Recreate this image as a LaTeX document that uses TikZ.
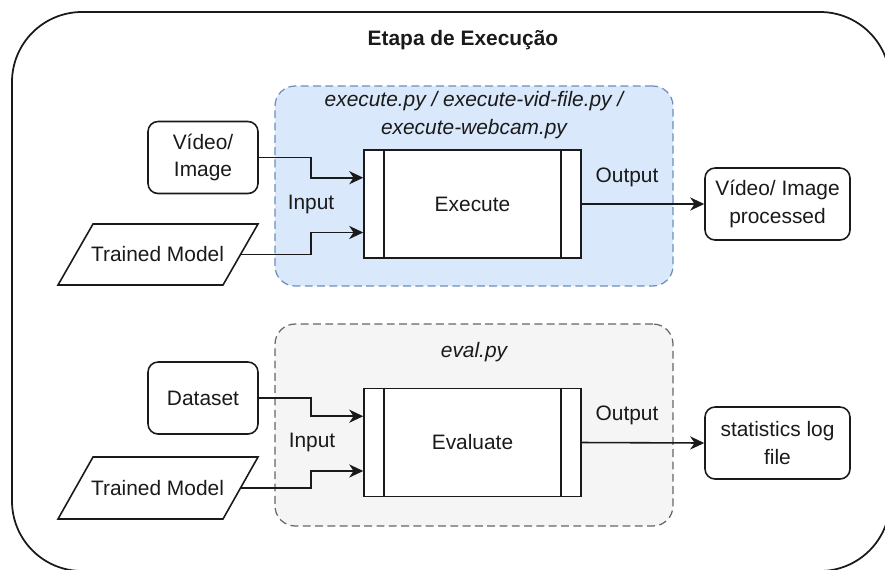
\documentclass[tikz,border=0pt]{standalone}
\usepackage{fontspec}
\setmainfont{Liberation Sans}
\usetikzlibrary{arrows.meta,calc}
\definecolor{blueFill}{HTML}{DAE8FC}
\definecolor{blueLine}{HTML}{6C8EBF}
\definecolor{grayFill}{HTML}{F5F5F5}
\definecolor{grayLine}{HTML}{666666}
\definecolor{ink}{HTML}{1A1A1A}

\begin{document}
\begin{tikzpicture}[x=0.02cm,y=-0.02cm,
  font=\fontsize{11.9pt}{15.5pt}\selectfont,
  line width=0.9pt,
  box/.style={draw=ink, fill=white, rounded corners=0.2cm, minimum width=2.2cm,
    minimum height=1.44cm, align=center, inner sep=0, text=ink},
  outbox/.style={box, minimum width=2.9cm},
  proc/.style={draw=ink, fill=white, minimum width=4.34cm, minimum height=2.16cm,
    inner sep=0, text=ink},
  grp/.style={rounded corners=0.4cm, line width=0.7pt, dash pattern=on 4.5pt off 2.5pt,
    minimum width=7.96cm, inner sep=0},
  para/.style={draw=ink, fill=white, line join=miter},
  arr/.style={draw=ink, -{Stealth[length=8pt,width=7.5pt,inset=2.5pt]}},
  lbl/.style={inner sep=0, text=ink, align=center}]

\useasboundingbox (0,0) rectangle (885,569);
\clip (0,0) rectangle (885,569);

% outer stage frame
\draw[draw=ink, line width=1pt, rounded corners=1.4cm] (12,12) rectangle (890,571);
\node[lbl, font=\fontsize{11.9pt}{15.5pt}\selectfont\bfseries] (title) at (463,40) {Etapa de Execução};

% groups
\node[grp, draw=blueLine, fill=blueFill, minimum height=4cm] (gexec) at (474,186) {};
\node[grp, draw=grayLine, fill=grayFill, minimum height=4.04cm] (geval) at (474,425) {};
\node[lbl, font=\fontsize{11.9pt}{15.9pt}\selectfont\itshape] (gexecl) at (474,115)
  {execute.py / execute-vid-file.py /\\execute-webcam.py};
\node[lbl, font=\fontsize{11.9pt}{15.5pt}\selectfont\itshape] (gevall) at (474,352) {eval.py};

% upper flow
\node[box] (vid) at (203,157.5) {Vídeo/\\Image};
\draw[para] (58,285) -- (93,224) -- (258,224) -- (223,285) -- cycle;
\node[lbl] (tm1) at (157.5,254.5) {Trained Model};
\coordinate (tm1e) at (240.5,254.5);
\node[proc] (ex) at (472.5,204) {Execute};
\draw[ink] ([xshift=0.42cm]ex.north west) -- ([xshift=0.42cm]ex.south west);
\draw[ink] ([xshift=-0.42cm]ex.north east) -- ([xshift=-0.42cm]ex.south east);
\coordinate (exa) at ($(ex.north west)!0.26!(ex.south west)$);
\coordinate (exb) at ($(ex.north west)!0.76!(ex.south west)$);
\node[outbox] (vout) at (777.5,204) {Vídeo/ Image\\processed};
\node[lbl] (in1) at (311,204) {Input};
\node[lbl] (out1) at (627,177) {Output};
\draw[arr] (vid.east) -- (311,157.5) |- (exa);
\draw[arr] (tm1e) -- (311,254.5) |- (exb);
\draw[arr] (ex.east) -- (vout.west);

% lower flow
\node[box] (ds) at (203,398) {Dataset};
\draw[para] (58,519) -- (93,457) -- (258,457) -- (223,519) -- cycle;
\node[lbl] (tm2) at (157.5,488) {Trained Model};
\coordinate (tm2e) at (240.5,488);
\node[proc] (ev) at (472.5,442.5) {Evaluate};
\draw[ink] ([xshift=0.42cm]ev.north west) -- ([xshift=0.42cm]ev.south west);
\draw[ink] ([xshift=-0.42cm]ev.north east) -- ([xshift=-0.42cm]ev.south east);
\coordinate (eva) at ($(ev.north west)!0.26!(ev.south west)$);
\coordinate (evb) at ($(ev.north west)!0.76!(ev.south west)$);
\node[outbox] (sout) at (777.5,443) {statistics log\\file};
\node[lbl] (in2) at (312,442) {Input};
\node[lbl] (out2) at (627,415) {Output};
\draw[arr] (ds.east) -- (311,398) |- (eva);
\draw[arr] (tm2e) -- (311,488) |- (evb);
\draw[arr] (ev.east) -- (sout.west);
\end{tikzpicture}
\end{document}
